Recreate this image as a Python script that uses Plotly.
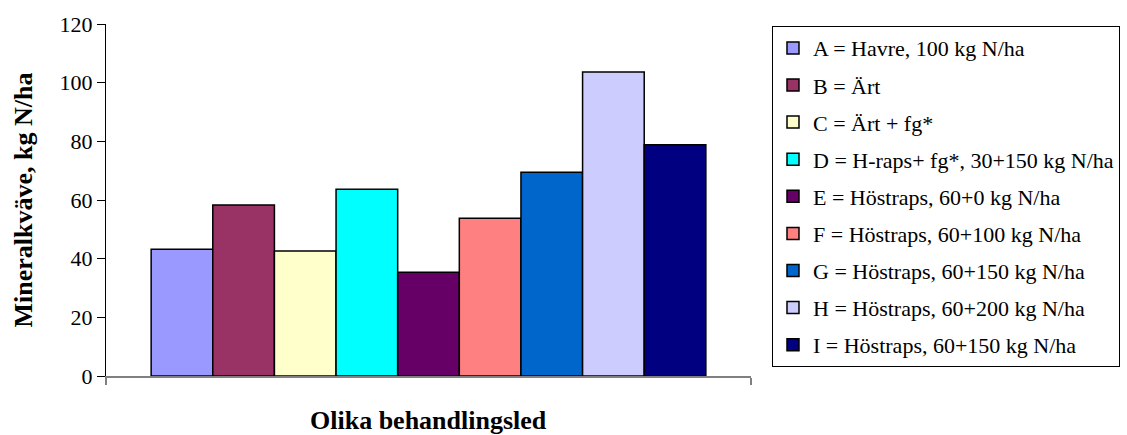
import plotly.graph_objects as go

labels = [
    "A = Havre, 100 kg N/ha",
    "B = Ärt",
    "C = Ärt + fg*",
    "D = H-raps+ fg*, 30+150 kg N/ha",
    "E = Höstraps, 60+0 kg N/ha",
    "F = Höstraps, 60+100 kg N/ha",
    "G = Höstraps, 60+150 kg N/ha",
    "H = Höstraps, 60+200 kg N/ha",
    "I = Höstraps, 60+150 kg N/ha",
]
values = [43.2, 58.3, 42.6, 63.7, 35.4, 53.8, 69.5, 103.6, 78.8]
colors = ["#9999FF", "#993366", "#FFFFCC", "#00FFFF", "#660066",
          "#FF8080", "#0066CC", "#CCCCFF", "#000080"]
category_pos = [0.5]
y_ticks = [0, 20, 40, 60, 80, 100, 120]

font = "Liberation Serif"

fig = go.Figure()
for i, (lab, val, col) in enumerate(zip(labels, values, colors)):
    fig.add_trace(go.Bar(
        x=category_pos, y=[val], name=lab, legendgroup=f"g{i}",
        marker=dict(color=col, line=dict(color="black", width=1.5)),
    ))

fig.update_layout(
    width=1127, height=435,
    margin=dict(l=106, r=376, t=24, b=59, autoexpand=False),
    plot_bgcolor="white", paper_bgcolor="white",
    barmode="group", bargap=0.14, bargroupgap=0,
    font=dict(family=font, color="black", size=22),
    showlegend=True,
    legend=dict(
        xref="container", yref="container",
        x=0.685, y=0.94, xanchor="left", yanchor="top",
        bordercolor="black", borderwidth=1,
        font=dict(family=font, size=22, color="black"),
        tracegroupgap=5.5, traceorder="grouped", maxheight=420,
    ),
    xaxis=dict(
        range=[0, 1], tickvals=[0, 1], showticklabels=False,
        ticks="outside", ticklen=7, tickcolor="#808080", tickwidth=1.5,
        showline=True, linecolor="#808080", linewidth=1.5,
        showgrid=False, zeroline=False, fixedrange=True, automargin=False,
    ),
    yaxis=dict(
        range=[0, 120], tickvals=y_ticks, automargin=False,
        ticks="outside", ticklen=8, tickcolor="black", tickwidth=1,
        showline=True, linecolor="black", linewidth=1,
        showgrid=False, zeroline=False, ticksuffix="\u2002\u2009",
        tickfont=dict(family=font, size=22, color="black"),
    ),
    annotations=[
        dict(text="<b>Mineralkväve, kg N/ha</b>", textangle=-90,
             xref="paper", yref="paper", x=-0.128, y=0.5,
             xanchor="center", yanchor="middle", showarrow=False,
             font=dict(family=font, size=26, color="black")),
        dict(text="<b>Olika behandlingsled</b>",
             xref="paper", yref="paper", x=0.5, y=-0.126,
             xanchor="center", yanchor="middle", showarrow=False,
             font=dict(family=font, size=26, color="black")),
    ],
)

fig.write_html("out.html")
